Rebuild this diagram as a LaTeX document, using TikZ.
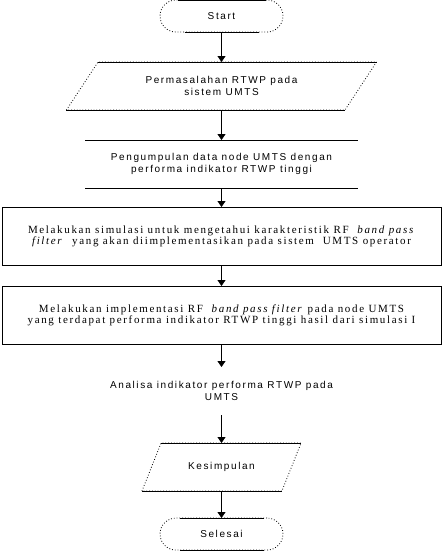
\documentclass[tikz,border=0pt]{standalone}
\usepackage{fontspec}
\setmainfont[LetterSpace=15]{Liberation Serif}
\setsansfont[LetterSpace=16]{Liberation Sans}
\usetikzlibrary{arrows.meta,positioning,shapes.geometric}

\begin{document}
\begin{tikzpicture}[auto, x=1pt, y=1pt, line width=0.8pt, node distance=30pt, >={Triangle[width=8pt,length=6pt]}]
	\tikzset{terminal/.style={draw, dotted, rounded corners=16pt, minimum width=123pt, minimum height=32pt, outer sep=0pt, font=\sffamily\fontsize{10}{12}\selectfont},
		io/.style={draw, dotted, trapezium, trapezium left angle=52, trapezium right angle=128, trapezium stretches=true, align=center, minimum height=48pt, outer sep=0pt, font=\sffamily\fontsize{10}{12}\selectfont},
		open/.style={align=center, minimum width=273pt, minimum height=48pt, outer sep=0pt, font=\sffamily\fontsize{10}{12}\selectfont},
		block/.style={draw, rectangle, align=center, minimum width=439pt, minimum height=58pt, outer sep=0pt, font=\rmfamily\fontsize{11}{11}\selectfont},
		rim/.style={draw, solid},
	}
	\useasboundingbox (0,0) rectangle (443,-552);

	\node [terminal] (start) at (221.5,-16) {Start};
	\node [io, minimum width=311pt, below=30pt of start] (masalah) {Permasalahan RTWP pada\\sistem UMTS};
	\node [open, below=30pt of masalah] (data) {Pengumpulan data node UMTS dengan\\performa indikator RTWP tinggi};
	\node [block, below=19pt of data] (simulasi) {Melakukan simulasi untuk mengetahui karakteristik RF~ \textit{band pass}\\\textit{filter}~ yang akan diimplementasikan pada sistem~ UMTS operator};
	\node [block, below=21pt of simulasi] (implementasi) {Melakukan implementasi RF~ \textit{band pass filter} pada node UMTS\\yang terdapat performa indikator RTWP tinggi hasil dari simulasi I};
	\node [open, below=23pt of implementasi] (analisa) {Analisa indikator performa RTWP pada\\UMTS};
	\node [io, minimum width=160pt, trapezium left angle=54, trapezium right angle=126, below=28pt of analisa] (kesimpulan) {Kesimpulan};
	\node [terminal, below=27pt of kesimpulan] (selesai) {Selesai};

	% solid edges of the dotted shapes
	\path[rim] ([xshift=-44pt]start.north) -- ([xshift=44pt]start.north);
	\path[rim] ([xshift=-37pt]start.south) -- ([xshift=37pt]start.south);
	\path[rim] (masalah.top left corner) -- (masalah.top right corner);
	\path[rim] (masalah.bottom left corner) -- (masalah.bottom right corner);
	\path[rim] (data.north west) -- (data.north east);
	\path[rim] (data.south west) -- (data.south east);
	\path[rim] (kesimpulan.top left corner) -- (kesimpulan.top right corner);
	\path[rim] (kesimpulan.bottom left corner) -- (kesimpulan.bottom right corner);
	\path[rim] ([xshift=-42pt]selesai.north) -- ([xshift=42pt]selesai.north);
	\path[rim] ([xshift=-42pt]selesai.south) -- ([xshift=42pt]selesai.south);

	\path[draw,->] (start) edge (masalah);
	\path[draw,->] (masalah) edge (data);
	\path[draw,->] (data) edge (simulasi);
	\path[draw,->] (simulasi) edge (implementasi);
	\path[draw,->] (implementasi) edge (analisa);
	\path[draw,->] (analisa) edge (kesimpulan);
	\path[draw,->] (kesimpulan) edge (selesai);

\end{tikzpicture}
\end{document}
